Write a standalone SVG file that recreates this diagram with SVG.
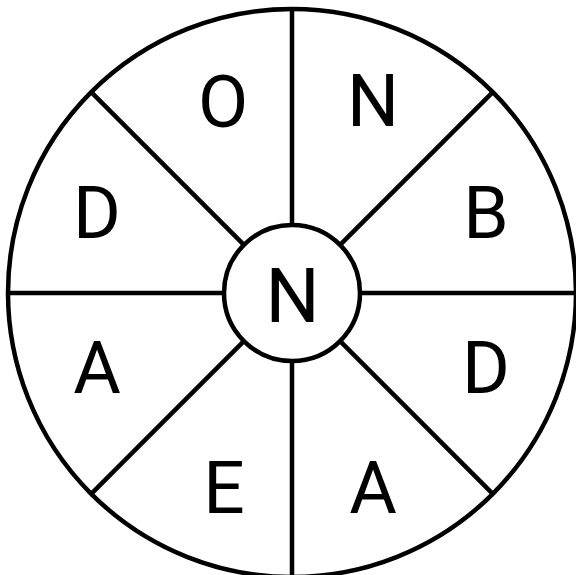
<svg xmlns="http://www.w3.org/2000/svg" width="576" height="575" viewBox="0 0 576 575">
<style>
.ln{stroke:#000;stroke-width:4.5;fill:none}
.lb{font-family:Roboto,"Liberation Sans",sans-serif;font-size:73px;font-weight:400;fill:#000;text-anchor:middle}
</style>
<rect width="576" height="575" fill="#fff"/>
<g id="wheel">
<circle class="ln" cx="292" cy="293" r="284"/>
</g>
<g id="spokes" class="ln">
<line x1="292" y1="9" x2="292" y2="225"/>
<line x1="292" y1="361" x2="292" y2="577"/>
<line x1="8" y1="293" x2="224" y2="293"/>
<line x1="360" y1="293" x2="576" y2="293"/>
<line x1="91.2" y1="92.2" x2="243.9" y2="244.9"/>
<line x1="492.8" y1="92.2" x2="340.1" y2="244.9"/>
<line x1="91.2" y1="493.8" x2="243.9" y2="341.1"/>
<line x1="492.8" y1="493.8" x2="340.1" y2="341.1"/>
</g>
<g id="hub">
<circle class="ln" cx="292" cy="293" r="68" fill="#fff"/>
<text class="lb" x="292.5" y="322" style="font-size:76px">N</text>
</g>
<g id="seg-o"><text class="lb" x="223" y="127">O</text></g>
<g id="seg-n"><text class="lb" x="373" y="126">N</text></g>
<g id="seg-b"><text class="lb" x="486" y="238">B</text></g>
<g id="seg-d2"><text class="lb" x="486" y="393">D</text></g>
<g id="seg-a2"><text class="lb" x="373" y="513">A</text></g>
<g id="seg-e"><text class="lb" x="224" y="513">E</text></g>
<g id="seg-a1"><text class="lb" x="97" y="393">A</text></g>
<g id="seg-d1"><text class="lb" x="97" y="238">D</text></g>
</svg>
